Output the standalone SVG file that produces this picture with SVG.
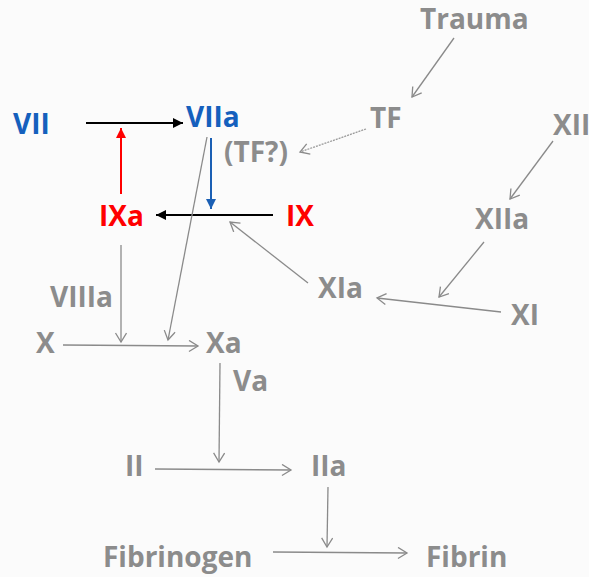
<svg xmlns="http://www.w3.org/2000/svg" width="589" height="577" viewBox="0 0 589 577">
<defs>
<style>
text{font-family:"Open Sans","Liberation Sans",sans-serif;font-weight:bold;font-size:28px;}
.g{fill:#8c8c8c;}
.b{fill:#1560bd;}
.r{fill:#ff0000;}
.gl{stroke:#8a8a8a;stroke-width:1.3;fill:none;marker-end:url(#open);}
.dl{stroke:#9a9a9a;stroke-width:1.3;fill:none;stroke-dasharray:2 1;marker-end:url(#open);}
</style>
<marker id="open" markerUnits="userSpaceOnUse" markerWidth="14" markerHeight="14" refX="10" refY="6" orient="auto">
<polyline points="1,0.5 10,6 1,11.5" fill="none" stroke="#8a8a8a" stroke-width="1.3"/>
</marker>
<marker id="fk" markerUnits="userSpaceOnUse" markerWidth="12" markerHeight="12" refX="10" refY="5" orient="auto">
<path d="M0,0 L10,5 L0,10 z" fill="#000"/>
</marker>
<marker id="fb" markerUnits="userSpaceOnUse" markerWidth="12" markerHeight="12" refX="10" refY="5" orient="auto">
<path d="M0,0 L10,5 L0,10 z" fill="#1a5fb4"/>
</marker>
<marker id="fr" markerUnits="userSpaceOnUse" markerWidth="12" markerHeight="12" refX="10" refY="5" orient="auto">
<path d="M0,0 L10,5 L0,10 z" fill="#ff0000"/>
</marker>
</defs>
<rect width="589" height="577" fill="#fbfbfb"/>
<g id="connectors">
<line x1="86" y1="123" x2="183" y2="123" stroke="#000" stroke-width="2" marker-end="url(#fk)"/>
<line x1="121" y1="194" x2="121" y2="128" stroke="#ff0000" stroke-width="2" marker-end="url(#fr)"/>
<line x1="211" y1="138" x2="211" y2="209" stroke="#1a5fb4" stroke-width="2" marker-end="url(#fb)"/>
<line x1="273" y1="215" x2="156" y2="215" stroke="#000" stroke-width="2" marker-end="url(#fk)"/>
<line class="gl" x1="454" y1="38" x2="412" y2="97"/>
<line class="dl" x1="366" y1="129" x2="300" y2="152"/>
<line class="gl" x1="553" y1="141" x2="510" y2="199"/>
<line class="gl" x1="484" y1="242" x2="439" y2="297"/>
<line class="gl" x1="501" y1="312" x2="377" y2="298"/>
<line class="gl" x1="308" y1="283" x2="230" y2="222"/>
<line class="gl" x1="207" y1="137" x2="168" y2="340"/>
<line class="gl" x1="121" y1="245" x2="121" y2="342"/>
<line class="gl" x1="63" y1="345" x2="198" y2="346"/>
<line class="gl" x1="220" y1="363" x2="219" y2="462"/>
<line class="gl" x1="155" y1="469" x2="291" y2="470"/>
<line class="gl" x1="328" y1="487" x2="327" y2="547"/>
<line class="gl" x1="273" y1="552" x2="407" y2="553"/>
</g>
<g id="n-trauma"><text class="g" x="420" y="29">Trauma</text></g>
<g id="n-tf"><text class="g" x="370" y="128">TF</text></g>
<g id="n-tfq"><text class="g" x="224" y="162">(TF?)</text></g>
<g id="n-vii"><text class="b" x="13" y="134">VII</text></g>
<g id="n-viia"><text class="b" x="186" y="127">VIIa</text></g>
<g id="n-ixa"><text class="r" x="99" y="226">IXa</text></g>
<g id="n-ix"><text class="r" x="286" y="226">IX</text></g>
<g id="n-xii"><text class="g" x="553" y="135">XII</text></g>
<g id="n-xiia"><text class="g" x="475" y="229">XIIa</text></g>
<g id="n-xia"><text class="g" x="318" y="298">XIa</text></g>
<g id="n-xi"><text class="g" x="511" y="325">XI</text></g>
<g id="n-viiia"><text class="g" x="50" y="307">VIIIa</text></g>
<g id="n-x"><text class="g" x="36" y="353">X</text></g>
<g id="n-xa"><text class="g" x="206" y="353">Xa</text></g>
<g id="n-va"><text class="g" x="233" y="391">Va</text></g>
<g id="n-ii"><text class="g" x="125" y="476">II</text></g>
<g id="n-iia"><text class="g" x="311" y="476">IIa</text></g>
<g id="n-fibrinogen"><text class="g" x="103" y="567">Fibrinogen</text></g>
<g id="n-fibrin"><text class="g" x="426" y="567">Fibrin</text></g>
</svg>
